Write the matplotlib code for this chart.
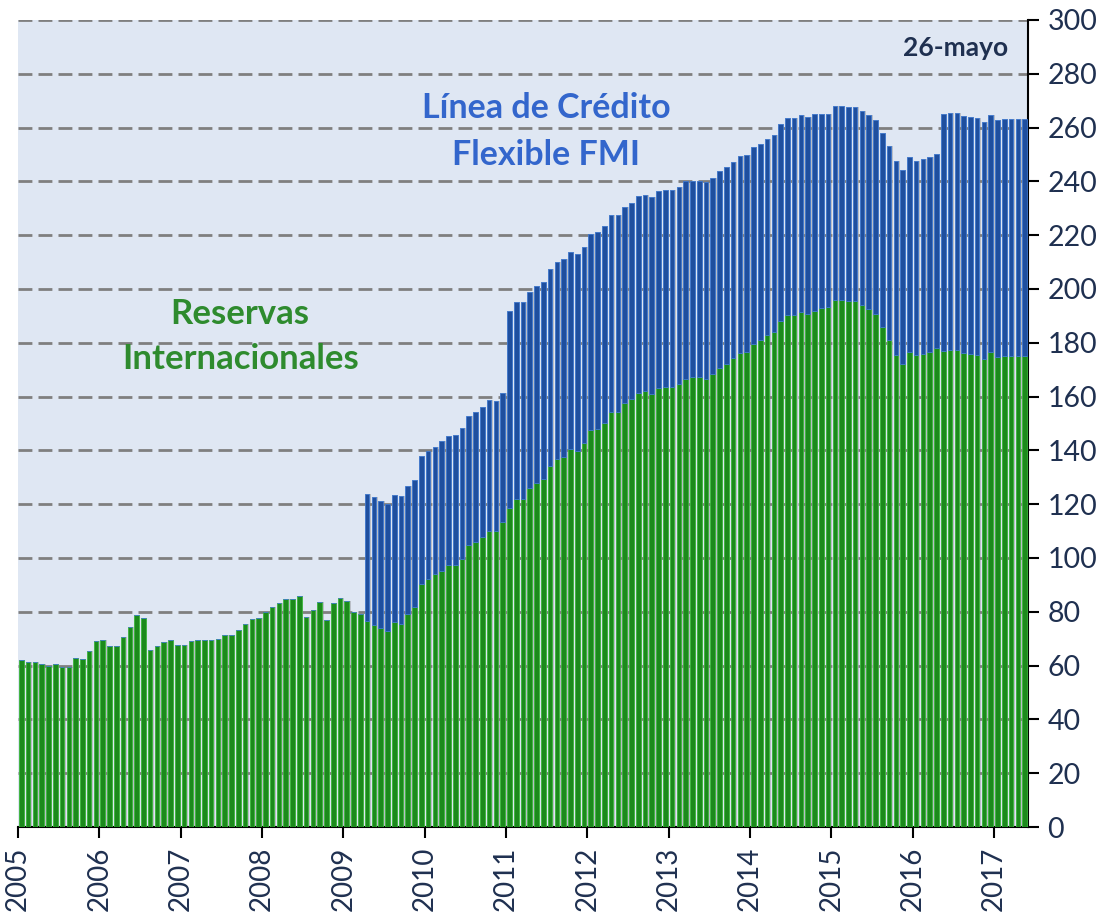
import numpy as np
import matplotlib
matplotlib.use("Agg")
import matplotlib.pyplot as plt

# Monthly data, Jan-2005 .. May-2017 (billions USD)
years = ["2005", "2006", "2007", "2008", "2009", "2010", "2011",
         "2012", "2013", "2014", "2015", "2016", "2017"]

reservas = [
    # 2005
    62.0, 61.5, 61.5, 60.7, 60.0, 60.7, 59.3, 59.3, 63.0, 62.4, 65.6, 69.0,
    # 2006
    69.7, 67.4, 67.4, 70.8, 74.5, 78.8, 77.8, 65.9, 67.4, 68.9, 69.5, 67.8,
    # 2007
    67.7, 69.0, 69.4, 69.7, 69.7, 70.0, 71.2, 71.2, 73.4, 75.6, 77.5, 77.8,
    # 2008
    80.1, 81.6, 83.2, 84.9, 84.9, 85.7, 78.2, 80.8, 83.8, 77.1, 83.4, 85.2,
    # 2009
    84.0, 80.0, 79.2, 76.5, 75.2, 73.8, 72.8, 76.1, 75.6, 79.3, 81.6, 90.5,
    # 2010
    92.2, 93.9, 95.3, 97.3, 97.5, 99.8, 104.7, 106.0, 107.7, 110.2, 110.2, 113.3,
    # 2011
    118.5, 121.8, 121.8, 125.9, 127.8, 129.5, 134.1, 136.7, 137.7, 140.4, 139.7, 142.7,
    # 2012
    147.5, 147.9, 150.1, 154.2, 154.2, 157.5, 159.0, 161.2, 162.0, 160.9, 163.1, 163.5,
    # 2013
    163.4, 164.6, 166.7, 167.2, 167.2, 166.4, 168.3, 170.5, 172.0, 174.2, 176.1, 176.5,
    # 2014
    179.5, 180.9, 182.8, 183.9, 188.0, 190.2, 190.2, 191.3, 190.6, 191.7, 192.8, 193.2,
    # 2015
    195.8, 195.8, 195.4, 195.4, 194.0, 192.5, 190.6, 185.8, 181.0, 175.4, 172.0, 176.5,
    # 2016
    175.4, 175.8, 176.5, 178.0, 176.9, 177.3, 177.3, 176.2, 175.8, 175.4, 173.9, 176.5,
    # 2017
    174.6, 175.0, 175.0, 175.0, 175.0,
]

lcf = [
    # 2005
    0, 0, 0, 0, 0, 0, 0, 0, 0, 0, 0, 0,
    # 2006
    0, 0, 0, 0, 0, 0, 0, 0, 0, 0, 0, 0,
    # 2007
    0, 0, 0, 0, 0, 0, 0, 0, 0, 0, 0, 0,
    # 2008
    0, 0, 0, 0, 0, 0, 0, 0, 0, 0, 0, 0,
    # 2009
    0, 0, 0, 47.3, 47.5, 47.4, 47.3, 47.3, 47.5, 47.5, 47.4, 47.4,
    # 2010
    47.4, 47.4, 48.2, 48.1, 48.2, 48.6, 48.1, 48.3, 48.5, 48.6, 48.2, 48.1,
    # 2011
    73.2, 73.3, 73.3, 72.9, 73.2, 73.0, 73.2, 73.4, 73.4, 73.4, 73.3, 72.9,
    # 2012
    73.0, 73.2, 73.3, 73.2, 73.2, 72.9, 72.9, 73.3, 72.8, 73.2, 73.2, 73.2,
    # 2013
    73.4, 73.2, 73.3, 72.8, 72.8, 73.3, 72.8, 73.3, 73.3, 72.9, 73.2, 73.2,
    # 2014
    73.2, 72.9, 72.9, 73.2, 73.2, 73.3, 73.3, 73.3, 73.2, 73.3, 72.2, 71.8,
    # 2015
    72.1, 72.1, 72.2, 72.2, 72.1, 72.1, 72.1, 72.1, 72.1, 72.1, 72.2, 72.5,
    # 2016
    72.1, 72.5, 72.5, 72.1, 88.1, 88.0, 88.0, 88.0, 88.0, 88.1, 88.1, 88.1,
    # 2017
    88.1, 88.1, 88.1, 88.1, 88.1,
]

yticks = list(range(0, 301, 20))

plt.rcParams['font.family'] = ['Lato', 'DejaVu Sans']

fig = plt.figure(figsize=(11.12, 9.15), dpi=100)
ax = fig.add_axes([18 / 1112, 1 - 827 / 915, (1028 - 18) / 1112, (827 - 20) / 915])
ax.set_facecolor('#DFE7F3')

x = np.arange(len(reservas))
res = np.array(reservas)
fcl = np.array(lcf)
total = res + fcl

# shadow behind bars
ax.bar(x + 0.12, total, width=0.9, color='#B9BEC6', zorder=1, linewidth=0)
ax.set_axisbelow(False)
for v in yticks[1:]:
    ax.axhline(v, color='#7F7F7F', lw=2.0, ls=(0, (5, 2.2)), zorder=2)

ax.bar(x, res, width=0.68, color='#1C8A1C', edgecolor='#3DB83D', linewidth=0.6, zorder=3)
ax.bar(x, fcl, bottom=res, width=0.68, color='#1F4F9E', edgecolor='#3E78D0', linewidth=0.6, zorder=3)

ax.set_xlim(-0.5, len(reservas) - 0.5)
ax.set_ylim(0, 300)

tick_pos = [-0.5 + 12 * i for i in range(len(years))]
ax.set_xticks(tick_pos)
ax.set_xticklabels(years, rotation=90, fontsize=20, color='#1F3050')
ax.tick_params(axis='x', length=8, width=1.5, color='black', pad=6)

ax.yaxis.tick_right()
ax.set_yticks(yticks)
ax.set_yticklabels([str(v) for v in yticks], fontsize=20.5, color='#1F3050')
ax.tick_params(axis='y', length=8, width=1.5, color='black', pad=6)

for s in ['top', 'left']:
    ax.spines[s].set_visible(False)
ax.spines['right'].set_linewidth(1.5)
ax.spines['bottom'].set_linewidth(1.5)

ax.text(0.523, 0.862, 'Línea de Crédito\nFlexible FMI', transform=ax.transAxes,
        ha='center', va='center', fontsize=24.5, fontweight='bold', color='#3366CC',
        linespacing=1.55)
ax.text(0.22, 0.608, 'Reservas\nInternacionales', transform=ax.transAxes,
        ha='center', va='center', fontsize=25, fontweight='bold', color='#2E8B2E',
        linespacing=1.5)
ax.text(0.928, 0.965, '26-mayo', transform=ax.transAxes,
        ha='center', va='center', fontsize=19, fontweight='bold', color='#1F3050')

fig.savefig('out.png', dpi=100)
